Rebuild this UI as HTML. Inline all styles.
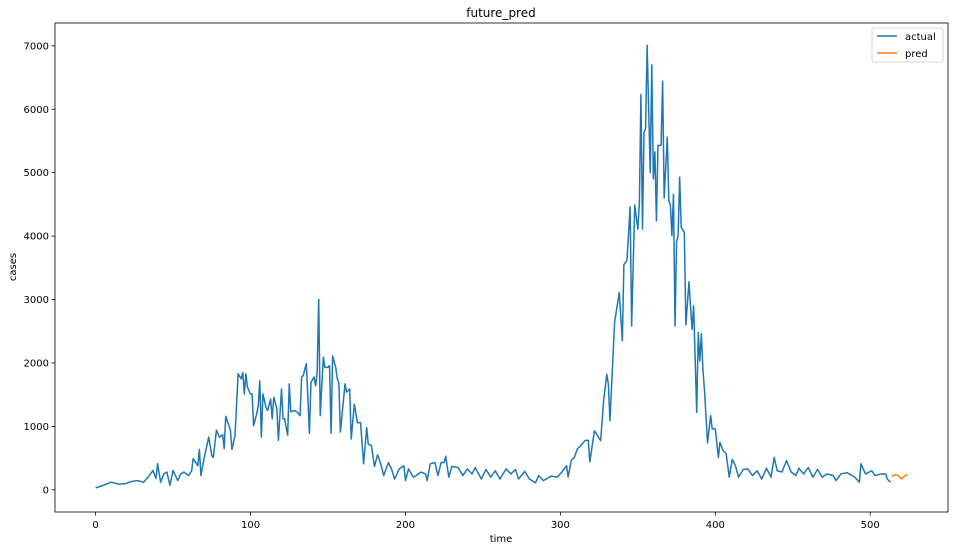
<!DOCTYPE html>
<html><head><meta charset="utf-8"><style>
html,body{margin:0;padding:0;background:#fff;}
svg{display:block;font-family:"DejaVu Sans","Liberation Sans",sans-serif;}
</style></head><body>
<svg id="chart" width="953" height="550" xmlns="http://www.w3.org/2000/svg">
<rect x="0" y="0" width="953" height="550" fill="#fff"/>
<text x="501" y="17" text-anchor="middle" font-size="12" fill="#000">future_pred</text>
<text x="501" y="542" text-anchor="middle" font-size="10" fill="#000">time</text>
<text transform="translate(16,267) rotate(-90)" text-anchor="middle" font-size="10" fill="#000">cases</text>
<g id="grid"></g>
<g id="series"></g>
<rect x="55" y="23" width="893" height="489" fill="none" stroke="#000" stroke-width="0.8"/>
<g>
<rect x="872" y="28" width="71" height="34" rx="2" fill="#fff" stroke="#ccc" stroke-width="0.8"/>
<line x1="877" y1="36" x2="897" y2="36" stroke="#1f77b4" stroke-width="1.5"/>
<text x="905" y="40" font-size="10">actual</text>
<line x1="877" y1="53" x2="897" y2="53" stroke="#ff7f0e" stroke-width="1.5"/>
<text x="905" y="57" font-size="10">pred</text>
</g>
</svg>
<script>
const actualTime = [0,5,10,15,19,23,27,31,34,37,39,40,42,44,46,48,50,52,53,55,57,60,62,63,66,67,68,70,73,75,76,78,80,82,83,84,87,88,90,92,94,95,96,97,98,100,101,102,104,105,106,107,108,110,111,113,114,115,117,118,120,121,122,124,125,126,128,130,132,133,134,136,137,138,139,141,142,143,144,145,146,147,148,150,151,152,153,155,156,157,158,161,162,164,165,167,169,171,173,175,176,178,180,182,184,186,189,191,193,196,199,200,202,205,207,210,213,214,216,219,221,223,225,226,228,230,234,237,240,243,245,249,252,255,258,261,265,268,271,273,277,280,284,286,289,294,298,301,304,305,307,309,311,314,316,318,319,322,326,328,330,331,332,335,338,340,341,343,345,346,348,350,351,352,353,354,355,356,358,359,360,361,362,363,365,366,367,369,370,371,372,373,374,375,376,377,378,380,381,383,385,386,387,388,389,390,391,392,393,395,397,398,400,402,403,405,407,409,411,413,415,418,421,424,427,430,433,436,438,440,443,446,449,452,454,457,460,463,466,469,472,476,478,481,485,490,493,494,497,501,503,507,510,511,513];
const actualCases = [30,70,120,90,95,130,145,120,200,305,180,410,120,250,280,70,305,200,145,250,280,225,300,490,380,635,225,490,830,540,510,940,830,870,650,1160,940,635,860,1830,1750,1850,1510,1830,1620,1510,1510,1010,1200,1330,1720,830,1510,1300,1250,1430,1120,1460,1280,780,1590,1120,1120,860,1670,1230,1250,1230,1170,1780,1800,1990,1460,890,1690,1780,1640,1850,3000,1170,1640,2090,1930,1930,1960,890,2110,1930,1750,1690,910,1670,1540,1590,800,1350,1060,1060,410,980,720,700,370,550,410,225,430,330,170,330,380,145,330,200,225,280,250,145,410,430,225,430,430,530,200,370,350,225,330,250,350,170,320,200,300,170,330,250,320,170,290,170,110,225,145,215,200,280,380,200,460,510,645,720,780,780,440,930,775,1430,1820,1660,1090,2640,3110,2350,3550,3620,4460,2580,4490,4110,4520,6230,4110,5640,5690,7010,5000,6700,4900,5330,4240,5430,5430,6440,4600,5560,4560,4490,4010,4660,2580,3910,4010,4930,4140,4060,2600,3280,2530,2900,2060,1220,2480,2030,2460,1900,1580,740,1170,960,960,510,750,620,570,200,480,380,200,320,330,225,300,170,340,200,510,300,280,460,280,225,340,250,350,200,320,200,250,225,145,250,270,200,120,410,250,300,225,250,250,170,120];
const predTime = [514,516,518,520,522,524];
const predCases = [210,237,230,170,215,240];
const xTicks = [0,100,200,300,400,500];
const yTicks = [0,1000,2000,3000,4000,5000,6000,7000];

const NS = "http://www.w3.org/2000/svg";
const L=55,R=948,T=23,B=512;
const xMin=-26.2,xMax=550.2,yMin=-350,yMax=7360;
function xs(v){return L+(v-xMin)/(xMax-xMin)*(R-L);}
function ys(v){return B-(v-yMin)/(yMax-yMin)*(B-T);}
const grid=document.getElementById('grid');
xTicks.forEach(t=>{
  const ln=document.createElementNS(NS,'line');
  ln.setAttribute('x1',xs(t));ln.setAttribute('x2',xs(t));ln.setAttribute('y1',B);ln.setAttribute('y2',B+3.5);
  ln.setAttribute('stroke','#000');ln.setAttribute('stroke-width','0.8');
  
  
  grid.appendChild(ln);
  const tx=document.createElementNS(NS,'text');
  tx.setAttribute('x',xs(t));tx.setAttribute('y',B+16);tx.setAttribute('text-anchor','middle');tx.setAttribute('font-size','10');
  tx.textContent=t;
  
  
  grid.appendChild(tx);
});
yTicks.forEach(t=>{
  const ln=document.createElementNS(NS,'line');
  ln.setAttribute('x1',L-3.5);ln.setAttribute('x2',L);ln.setAttribute('y1',ys(t));ln.setAttribute('y2',ys(t));
  ln.setAttribute('stroke','#000');ln.setAttribute('stroke-width','0.8');
  
  
  grid.appendChild(ln);
  const tx=document.createElementNS(NS,'text');
  tx.setAttribute('x',L-6);tx.setAttribute('y',ys(t)+3.5);tx.setAttribute('text-anchor','end');tx.setAttribute('font-size','10');
  tx.textContent=t;
  
  
  grid.appendChild(tx);
});
const series=document.getElementById('series');
function line(xsArr,ysArr,color){
  const p=document.createElementNS(NS,'polyline');
  p.setAttribute('points',xsArr.map((x,i)=>xs(x).toFixed(2)+','+ys(ysArr[i]).toFixed(2)).join(' '));
  p.setAttribute('fill','none');p.setAttribute('stroke',color);p.setAttribute('stroke-width','1.5');p.setAttribute('stroke-linejoin','round');
  series.appendChild(p);
  return p;
}
const a=line(actualTime,actualCases,'#1f77b4');


const pr=line(predTime,predCases,'#ff7f0e');


</script>
</body></html>
